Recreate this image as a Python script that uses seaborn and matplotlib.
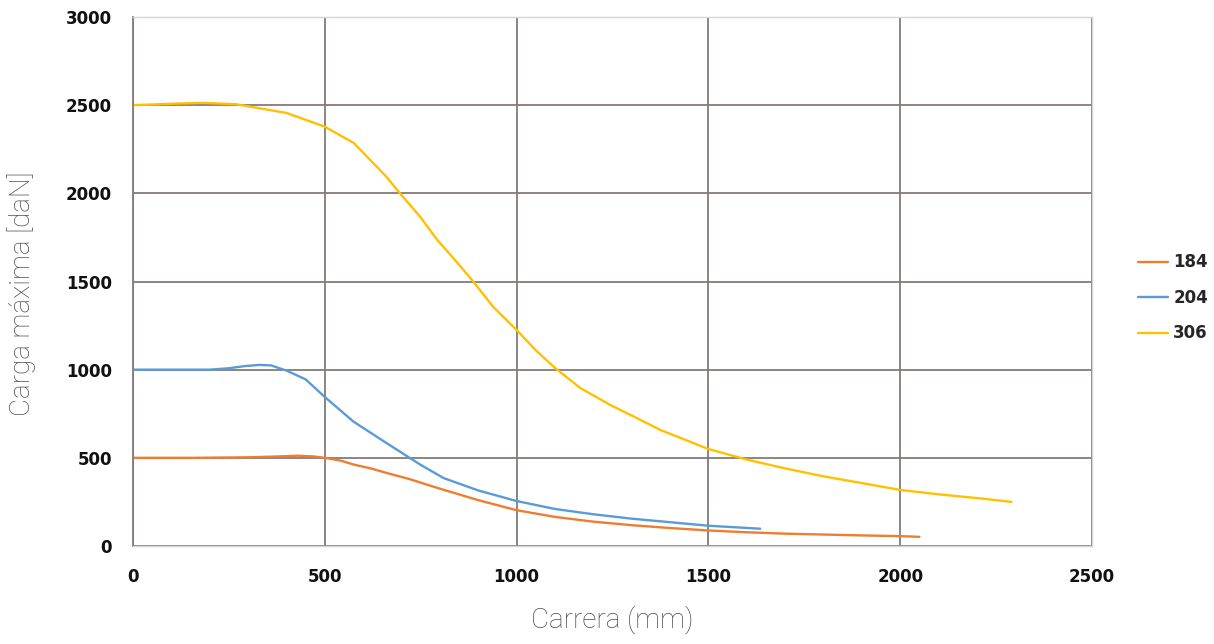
import matplotlib
matplotlib.use("Agg")
import matplotlib.pyplot as plt
import seaborn as sns
import pandas as pd

# ---- data ----
x_184 = [0, 150, 300, 380, 430, 470, 500, 540, 575, 620, 660, 720, 800, 900, 1000, 1100, 1200, 1300, 1400, 1500, 1600, 1700, 1800, 1900, 2000, 2050]
y_184 = [500, 500, 503, 508, 512, 508, 500, 485, 462, 440, 415, 380, 325, 260, 203, 165, 138, 118, 102, 88, 78, 70, 65, 60, 56, 52]

x_204 = [0, 100, 200, 250, 290, 330, 360, 400, 450, 500, 575, 660, 750, 810, 900, 1000, 1100, 1200, 1300, 1400, 1500, 1635]
y_204 = [1000, 1000, 1000, 1008, 1020, 1027, 1024, 995, 945, 845, 705, 585, 460, 385, 315, 255, 210, 180, 155, 135, 115, 98]

x_306 = [0, 100, 183, 270, 400, 500, 575, 626, 661, 696, 749, 793, 835, 887, 939, 1000, 1050, 1100, 1166, 1244, 1300, 1375, 1500, 1600, 1700, 1800, 1900, 2000, 2100, 2200, 2290]
y_306 = [2500, 2508, 2513, 2505, 2456, 2378, 2286, 2172, 2093, 2000, 1866, 1736, 1633, 1500, 1356, 1225, 1110, 1010, 896, 800, 740, 658, 550, 490, 440, 395, 357, 318, 293, 272, 250]

series_names = ["184", "204", "306"]
colors = ["#ED7D31", "#5B9BD5", "#FFC000"]
x_ticks = [0, 500, 1000, 1500, 2000, 2500]
y_ticks = [0, 500, 1000, 1500, 2000, 2500, 3000]
x_label = "Carrera (mm)"
y_label = "Carga máxima [daN]"

df = pd.concat([
    pd.DataFrame({"x": x_184, "y": y_184, "serie": "184"}),
    pd.DataFrame({"x": x_204, "y": y_204, "serie": "204"}),
    pd.DataFrame({"x": x_306, "y": y_306, "serie": "306"}),
], ignore_index=True)

sns.set_style("white")
plt.rcParams["font.family"] = ["DejaVu Sans"]

W, H = 1214, 644
fig = plt.figure(figsize=(W / 100, H / 100), dpi=100)
ax = fig.add_axes([133 / W, 1 - 546 / H, (1092 - 133) / W, (546 - 17) / H])

sns.lineplot(data=df, x="x", y="y", hue="serie", hue_order=series_names,
             palette=colors, linewidth=1.7, sort=False, estimator=None,
             ax=ax, legend=True)

ax.set_xlim(0, 2500)
ax.set_ylim(0, 3000)
ax.set_xticks(x_ticks)
ax.set_yticks(y_ticks)
ax.set_xticklabels([str(v) for v in x_ticks], fontsize=12, fontweight="bold", color="#111111")
ax.set_yticklabels([str(v) for v in y_ticks], fontsize=12, fontweight="bold", color="#111111")
ax.tick_params(axis="both", length=0)
ax.tick_params(axis="y", pad=15)
ax.tick_params(axis="x", pad=16)

ax.grid(True, color="#857a7a", linewidth=1.3)
ax.set_axisbelow(True)
for side, sp in ax.spines.items():
    sp.set_visible(True)
    sp.set_color("#d4d4d4")
    sp.set_linewidth(1.0)
ax.spines["left"].set_color("#857a7a")
ax.spines["left"].set_linewidth(1.3)

label_font = dict(family=["Roboto", "DejaVu Sans"], fontweight="light", color="#4d4d4d", fontsize=20)
ax.set_xlabel("")
ax.set_ylabel("")
fig.text(612 / W, 1 - 620 / H, x_label, ha="center", va="center", **label_font)
fig.text(22 / W, 1 - 294 / H, y_label, ha="center", va="center", rotation=90, **label_font)

leg = ax.legend(title=None, frameon=False, loc="center left",
                bbox_to_anchor=(1130 / W, 1 - 298 / H), bbox_transform=fig.transFigure,
                handlelength=1.8, handletextpad=0.3, labelspacing=1.05, borderpad=0,
                prop={"weight": "bold", "size": 12})
for line in leg.get_lines():
    line.set_linewidth(1.7)

fig.savefig("out.png", dpi=100, facecolor="white")
